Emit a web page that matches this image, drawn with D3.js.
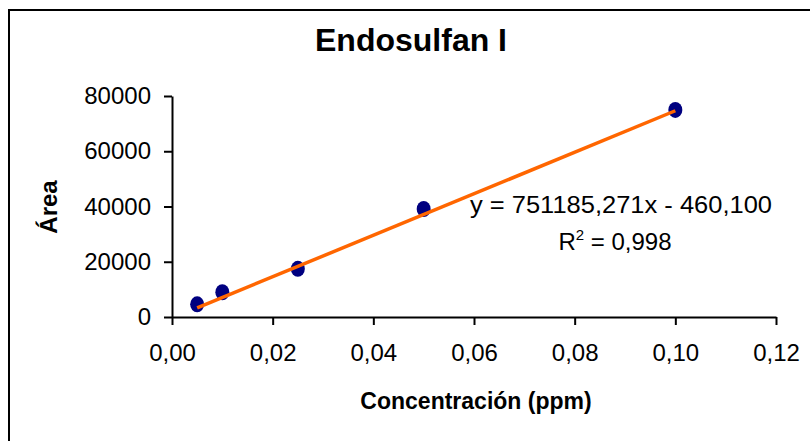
<!DOCTYPE html>
<html><head><meta charset="utf-8">
<script src="https://cdn.jsdelivr.net/npm/d3@7/dist/d3.min.js"></script>
<style>
html,body{margin:0;padding:0;background:#fff;}
svg{display:block;font-family:"Liberation Sans",Arial,sans-serif;}
</style></head><body>
<svg id="chart" width="810" height="441"></svg>
<script>
const concentration = [0.005, 0.01, 0.025, 0.05, 0.1];
const area = [4600, 8950, 17450, 39100, 74950];
const xTicks = [0, 0.02, 0.04, 0.06, 0.08, 0.10, 0.12];
const yTicks = [0, 20000, 40000, 60000, 80000];
const slope = 751185.271, intercept = -460.100;
const title = "Endosulfan I";
const xTitle = "Concentración (ppm)";
const yTitle = "Área";
const eqLine = "y = 751185,271x - 460,100";
const r2Text = "0,998";

const svg = d3.select("#chart");
svg.append("rect").attr("x",9).attr("y",10).attr("width",900).attr("height",600)
  .attr("fill","#fff").attr("stroke","#000").attr("stroke-width",2);

const x = d3.scaleLinear().domain([0,0.12]).range([172,776]);
const y = d3.scaleLinear().domain([0,80000]).range([317,96]);
const fmtX = d => d.toFixed(2).replace(".", ",");

const gx = svg.append("g").attr("transform","translate(0,317)")
  .call(d3.axisBottom(x).tickValues(xTicks).tickFormat(fmtX).tickSize(8).tickPadding(19).tickSizeOuter(0));
const gy = svg.append("g").attr("transform","translate(172,0)")
  .call(d3.axisLeft(y).tickValues(yTicks).tickFormat(d=>String(d)).tickSize(8).tickPadding(13).tickSizeOuter(0));
[gx,gy].forEach(g=>{
  g.selectAll("path,line").attr("stroke","#000").attr("stroke-width",2);
  g.selectAll("text").attr("font-size",24).attr("fill","#000").attr("font-family","Liberation Sans, Arial, sans-serif");
});

const xs = [d3.min(concentration), d3.max(concentration)];
// points
svg.append("g").selectAll("ellipse").data(concentration).join("ellipse")
  .attr("cx",(d)=>x(d)).attr("cy",(d,i)=>y(area[i]))
  .attr("rx",7).attr("ry",8).attr("fill","#000080");
// trendline drawn over markers
svg.append("line")
  .attr("x1", x(xs[0])).attr("y1", y(slope*xs[0]+intercept))
  .attr("x2", x(xs[1])).attr("y2", y(slope*xs[1]+intercept))
  .attr("stroke","#FF6600").attr("stroke-width",3.5);

svg.append("text").attr("x",411).attr("y",51).attr("text-anchor","middle")
  .attr("font-size",32).attr("font-weight","bold").text(title);
svg.append("text").attr("x",476).attr("y",409).attr("text-anchor","middle")
  .attr("font-size",23).attr("font-weight","bold").text(xTitle);
svg.append("text").attr("transform","translate(57,207) rotate(-90)").attr("text-anchor","middle")
  .attr("font-size",24).attr("font-weight","bold").text(yTitle);

svg.append("text").attr("x",470).attr("y",213).attr("text-anchor","start")
  .attr("font-size",24).attr("textLength",302).attr("lengthAdjust","spacingAndGlyphs").text(eqLine);
const r2 = svg.append("text").attr("x",615).attr("y",250).attr("text-anchor","middle").attr("font-size",24);
r2.append("tspan").text("R");
r2.append("tspan").attr("dy",-10).attr("font-size",15).text("2");
r2.append("tspan").attr("dy",10).text(" = " + r2Text);
</script>
</body></html>
